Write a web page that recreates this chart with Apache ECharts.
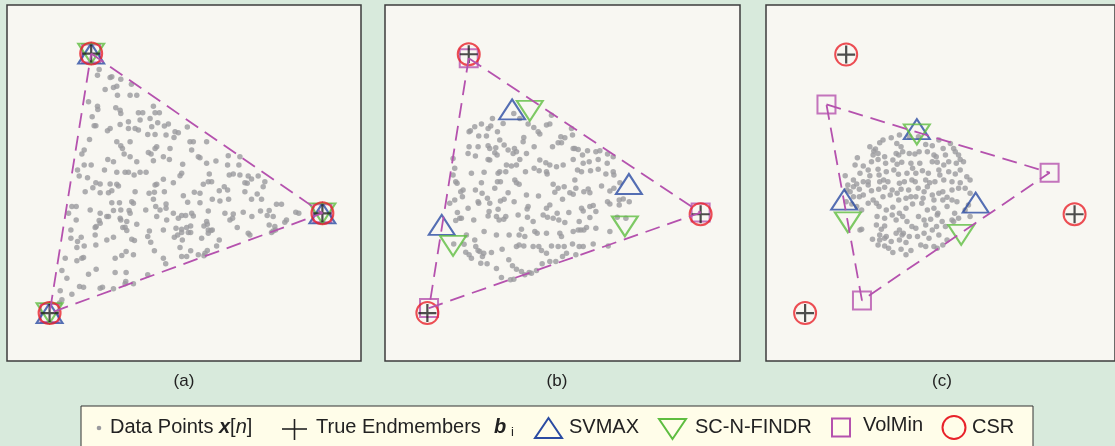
<!DOCTYPE html>
<html>
<head>
<meta charset="utf-8">
<script src="https://cdn.jsdelivr.net/npm/echarts@6/dist/echarts.min.js"></script>
<style>
html,body{margin:0;padding:0;background:#d8eadc;}
#c{width:1115px;height:446px;}
</style>
</head>
<body>
<div id="c"></div>
<script>
// Panel labels
const panelLabels = ['(a)', '(b)', '(c)'];
const legendNames = ['Data Points', 'True Endmembers', 'SVMAX', 'SC-N-FINDR', 'VolMin', 'CSR'];

// Axis ranges (arbitrary image units) per panel
const xRanges = [[20, 1084], [16, 1080], [34, 1096]];
const yRanges = [[14, 1084], [14, 1084], [14, 1084]];

// Data points x[n] per panel
const pointsA = [
[297,208],[292,225],[330,232],[335,230],[362,237],[394,252],[315,268],[340,262],[350,258],[352,285],[390,285],[410,285],
[265,305],[292,318],[293,328],[347,323],[360,330],[362,340],[460,318],[415,338],[428,338],[465,338],[478,338],[276,350],[450,355],[420,360],[385,365],
[282,377],[287,377],[330,385],[322,392],[360,373],[385,385],[405,385],[415,390],[455,380],[473,368],[493,378],[505,372],[562,381],[443,403],[465,403],[498,405],[525,395],[535,398],[522,412],
[268,418],[350,425],[390,425],[362,437],[367,445],[470,440],[465,445],[510,445],[570,425],[580,425],[620,425],[575,450],[252,450],[245,462],[372,462],[390,470],[445,457],[453,462],[490,470],[508,478],[595,470],[600,473],[685,467],[720,470],
[323,478],[340,485],[410,485],[460,482],[548,493],[620,490],[648,483],[683,495],[717,495],[252,495],[273,495],[232,510],[313,510],[350,517],[375,517],[385,517],[402,525],[420,517],[438,517],[545,520],[540,527],[628,522],[688,525],[700,522],[720,525],[745,528],[775,528],[755,537],[795,545],[237,528],[262,533],
[287,548],[300,552],[330,552],[350,553],[355,558],[465,555],[470,553],[490,538],[520,548],[610,553],[625,545],[635,545],[673,560],[735,548],[742,550],[790,560],[255,575],[278,563],[300,578],[325,578],[335,572],[405,575],[447,580],[463,577],[493,575],[550,587],[583,577],[600,580],[658,572],[683,570],[735,575],[772,582],
[215,620],[228,620],[270,630],[335,608],[358,608],[395,605],[400,610],[460,598],[467,620],[480,630],[498,612],[498,625],[563,607],[600,608],[637,598],[660,603],[686,598],[755,598],[785,598],[830,613],[845,613],[205,640],[300,640],[320,650],[340,632],[362,630],[387,632],[390,640],[437,630],[470,650],[520,640],[545,647],[557,647],[575,640],[625,633],[675,640],[700,642],[730,637],[782,633],[808,632],[888,637],[897,640],
[228,660],[297,662],[300,670],[325,650],[360,655],[362,660],[380,665],[410,673],[500,660],[535,655],[580,648],[620,665],[622,673],[690,660],[698,655],[756,650],[802,647],[820,650],[860,660],[855,667],[212,690],[285,683],[288,680],[368,683],[375,682],[380,692],[448,693],[490,690],[528,685],[545,688],[560,683],[572,678],[612,678],[625,690],[637,690],[712,683],[808,675],[825,680],[827,690],
[212,715],[232,725],[243,712],[252,738],[230,743],[285,705],[287,735],[320,720],[340,712],[395,718],[403,722],[443,710],[452,727],[523,712],[533,705],[545,698],[565,698],[572,698],[605,715],[625,700],[633,692],[650,738],[658,720],[745,700],[750,705],[815,698],[820,693],
[195,775],[230,783],[245,775],[250,773],[345,775],[365,767],[378,755],[400,765],[463,753],[490,775],[497,792],[540,743],[545,770],[560,770],[572,753],[595,765],[612,768],[615,760],[622,752],[547,720],
[200,835],[185,812],[265,823],[288,808],[345,818],[378,818],[377,845],[400,852],[375,852],[443,825],[238,860],[250,862],[300,865],[307,862],[340,867],[180,873],[215,883],[185,900],[178,910]
];
const pointsB = [
[370,370],[338,355],[402,340],[420,355],[445,372],[462,382],[475,395],[480,402],[500,375],[510,372],[515,345],[268,395],[272,392],[285,380],[305,372],[325,385],[333,378],[297,408],[320,408],[353,395],[360,420],[432,412],[430,425],[543,410],[555,413],[575,385],[578,405],[545,428],
[268,440],[295,440],[265,460],[287,468],[325,437],[330,445],[348,443],[352,465],[345,458],[373,435],[385,450],[404,445],[410,455],[400,460],[440,460],[463,440],[518,440],[535,428],[580,445],[585,445],[595,448],[608,465],[623,452],[648,455],[660,452],[683,462],[700,470],[325,478],[330,480],[220,475],[420,478],[480,480],[498,488],[510,495],[550,495],[580,478],[610,490],[628,485],[655,478],[682,490],
[380,495],[395,498],[410,495],[225,505],[220,525],[275,520],[313,517],[355,520],[360,515],[378,515],[437,515],[463,505],[478,512],[500,515],[502,522],[530,500],[593,510],[605,515],[632,512],[655,508],[678,522],[700,515],[702,525],[228,545],[232,550],[250,570],[243,575],[287,570],[305,548],[345,565],[353,545],[362,545],[405,540],[410,548],[418,553],[520,553],[535,565],[553,560],[585,540],[588,565],[612,575],[625,567],[630,578],[665,558],[690,573],[702,565],[720,548],
[210,610],[225,600],[248,590],[265,625],[295,605],[297,610],[307,580],[323,595],[330,610],[355,628],[362,603],[373,598],[385,578],[403,605],[440,585],[445,620],[442,627],[476,588],[500,625],[510,615],[525,577],[548,598],[570,578],[580,583],[605,625],[610,633],[630,620],[640,617],[648,635],[683,605],[690,612],[718,600],[730,597],[718,615],[748,605],[233,638],
[240,655],[228,662],[245,655],[282,660],[328,635],[325,648],[350,650],[358,660],[372,658],[378,650],[415,645],[443,652],[460,665],[490,645],[503,652],[520,655],[532,640],[537,660],[555,668],[567,638],[598,665],[630,653],[648,685],[603,690],[612,690],[620,683],[690,695],[712,652],[738,655],[260,705],[313,695],[350,705],[388,705],[418,705],[425,688],[435,710],[465,695],[472,700],[500,700],[540,700],[545,710],[580,695],[595,690],[253,733],[222,732],
[258,757],[285,720],[295,752],[300,755],[312,760],[335,758],[367,748],[410,740],[418,735],[432,738],[460,740],[477,740],[485,752],[500,760],[515,738],[535,740],[553,740],[560,760],[578,732],[598,740],[610,740],[640,732],[685,738],[268,765],[275,775],[303,790],[322,792],[350,806],[387,780],[398,798],[410,808],[425,815],[435,825],[455,820],[470,812],[487,792],[510,785],[528,785],[548,770],[588,765],
[365,833],[392,840],[402,838],[448,818],[308,770],[288,740]
];
const pointsC = [
[440,405],[415,413],[390,420],[380,428],[432,430],[445,440],[470,410],[498,410],[520,433],[540,437],[560,420],[573,445],[595,430],[605,445],[350,440],[362,453],[367,447],
[360,465],[375,460],[395,470],[430,460],[438,465],[450,455],[470,460],[487,462],[500,455],[525,455],[545,465],[552,470],[580,465],[610,455],[620,465],[312,473],[355,485],[375,478],[398,490],[420,480],[433,493],[447,487],[475,490],[502,490],[540,485],[555,487],[575,495],[590,485],[613,490],[625,478],[635,485],[305,495],[330,498],
[320,520],[275,527],[345,510],[350,527],[375,508],[378,525],[400,515],[423,510],[437,523],[463,520],[480,505],[490,520],[510,512],[528,520],[560,510],[563,525],[590,515],[610,522],[625,510],[645,530],[655,540],[300,540],[310,552],[330,545],[345,545],[380,545],[392,540],[405,545],[440,550],[455,545],[478,540],[488,545],[520,540],[532,548],[548,545],[575,540],[600,545],[625,548],
[283,555],[280,570],[290,575],[300,560],[318,568],[345,555],[355,572],[377,568],[395,562],[418,570],[433,580],[445,568],[468,570],[497,565],[515,575],[525,560],[540,585],[560,580],[572,575],[585,592],[600,570],[620,565],[640,565],[655,580],[300,590],[318,590],[330,585],[360,600],[370,610],[390,590],[412,585],[438,600],[460,595],[475,590],[490,590],[512,595],[545,600],[572,600],[600,600],[615,605],
[278,605],[295,612],[310,620],[325,630],[345,610],[378,620],[400,630],[420,622],[440,640],[460,625],[480,612],[508,610],[525,630],[545,625],[557,640],[585,620],[608,640],[640,630],[650,615],[372,650],[395,655],[418,645],[430,660],[450,650],[463,665],[498,650],[515,660],[535,658],[555,645],[570,665],[600,660],[620,655],[655,650],
[325,688],[320,690],[370,675],[385,688],[395,678],[440,690],[452,700],[478,680],[490,685],[520,675],[540,690],[553,680],[580,680],[605,665],[380,705],[400,710],[430,700],[448,705],[470,710],[495,710],[515,700],[530,715],[560,705],[358,718],[380,720],[395,715],[415,725],[440,720],[460,728],
[375,735],[395,738],[407,745],[420,758],[445,748],[460,765],[475,752],[505,735],[520,740],[545,740],[555,745],[585,720],[572,735]
];
const pointsAll = [pointsA, pointsB, pointsC];

// True endmembers b_i
const trueEnd = [
  [[273,160],[968,640],[148,940]],
  [[267,162],[962,643],[143,940]],
  [[278,163],[973,643],[153,940]]
];
const csrEnd = [
  [[273,160],[968,640],[148,940]],
  [[267,162],[962,643],[143,940]],
  [[278,163],[973,643],[153,940]]
];
const volminEnd = [
  [[273,160],[968,640],[148,940]],
  [[267,174],[962,638],[148,925]],
  [[218,313],[897,518],[326,902]]
];
const svmaxEnd = [
  [[273,160],[968,640],[148,940]],
  [[397,328],[747,552],[186,675]],
  [[493,387],[672,608],[272,599]]
];
const scnfindrEnd = [
  [[273,160],[968,640],[148,940]],
  [[450,332],[735,679],[220,738]],
  [[493,403],[628,705],[283,667]]
];

const C = {
  bg: '#d8eadc', panel: '#f8f7f2', border: '#3c3c3c', pts: '#9a9a9e',
  blue: '#2a4ba2', green: '#5ebd40', mag: '#b552ae', red: '#e8222a', black: '#222222'
};

const gridPos = [
  {left: 7, top: 5, width: 354, height: 356},
  {left: 385, top: 5, width: 355, height: 356},
  {left: 766, top: 5, width: 354, height: 356}
];

const crossPath = 'path://M10,0L10,20M0,10L20,10';
const grids = [], xAxes = [], yAxes = [], series = [];
for (let i = 0; i < 3; i++) {
  grids.push(Object.assign({show: true, backgroundColor: C.panel, borderColor: C.border, borderWidth: 1.5, containLabel: false}, gridPos[i]));
  xAxes.push({type: 'value', gridIndex: i, min: xRanges[i][0], max: xRanges[i][1], show: false});
  yAxes.push({type: 'value', gridIndex: i, min: yRanges[i][0], max: yRanges[i][1], inverse: true, show: false});
  const ax = {xAxisIndex: i, yAxisIndex: i, silent: true, animation: false};
  series.push(Object.assign({type: 'scatter', name: 'Data Points', data: pointsAll[i], symbol: 'circle', symbolSize: 5.5, itemStyle: {color: C.pts}}, ax));
  const v = volminEnd[i];
  series.push(Object.assign({type: 'line', name: 'VolMin-edges', data: [v[0], v[1], v[2], v[0]], symbol: 'none',
    lineStyle: {color: C.mag, width: 1.8, type: [15, 8]}}, ax));
  series.push(Object.assign({type: 'scatter', name: 'VolMin', data: volminEnd[i], symbol: 'rect', symbolSize: 18,
    itemStyle: {color: 'rgba(0,0,0,0)', borderColor: C.mag, borderWidth: 2}}, ax));
  series.push(Object.assign({type: 'scatter', name: 'SVMAX', data: svmaxEnd[i], symbol: 'triangle', symbolSize: [26, 20],
    itemStyle: {color: 'rgba(0,0,0,0)', borderColor: C.blue, borderWidth: 2}}, ax));
  series.push(Object.assign({type: 'scatter', name: 'SC-N-FINDR', data: scnfindrEnd[i], symbol: 'triangle', symbolRotate: 180, symbolSize: [26, 20],
    itemStyle: {color: 'rgba(0,0,0,0)', borderColor: C.green, borderWidth: 2}}, ax));
  series.push(Object.assign({type: 'scatter', name: 'CSR', data: csrEnd[i], symbol: 'circle', symbolSize: 22,
    itemStyle: {color: 'rgba(0,0,0,0)', borderColor: C.red, borderWidth: 2}}, ax));
  series.push(Object.assign({type: 'scatter', name: 'True Endmembers', data: trueEnd[i], symbol: crossPath, symbolSize: 18,
    itemStyle: {color: 'rgba(0,0,0,0)', borderColor: C.black, borderWidth: 2.2}}, ax));
}

const font = '"Liberation Sans", Arial, Helvetica, sans-serif';
const txt = (x, y, text, extra) => ({type: 'text', x: x, y: y, silent: true,
  style: Object.assign({text: text, font: '20px ' + font, fill: C.black, textVerticalAlign: 'middle'}, extra || {})});

const graphic = [
  txt(184, 381, panelLabels[0], {font: '17px ' + font, textAlign: 'center'}),
  txt(557, 381, panelLabels[1], {font: '17px ' + font, textAlign: 'center'}),
  txt(942, 381, panelLabels[2], {font: '17px ' + font, textAlign: 'center'}),
  {type: 'rect', shape: {x: 81, y: 406, width: 952, height: 60}, style: {fill: '#fffde9', stroke: '#333', lineWidth: 1}, silent: true},
  {type: 'circle', shape: {cx: 99, cy: 428, r: 2.3}, style: {fill: C.pts}, silent: true},
  {type: 'text', x: 110, y: 427, silent: true, style: {
    text: '{r|' + legendNames[0] + ' }{bi|x}{r|[}{i|n}{r|]}', textVerticalAlign: 'middle',
    rich: {r: {font: '20px ' + font, fill: C.black}, bi: {font: 'italic bold 20px ' + font, fill: C.black}, i: {font: 'italic 20px ' + font, fill: C.black}}}},
  {type: 'polyline', shape: {points: [[282, 429], [307, 429]]}, style: {stroke: C.black, lineWidth: 1.6}, silent: true},
  {type: 'polyline', shape: {points: [[294.5, 419], [294.5, 440]]}, style: {stroke: C.black, lineWidth: 1.6}, silent: true},
  txt(316, 427, legendNames[1]),
  txt(494, 427, 'b', {font: 'italic bold 20px ' + font}),
  txt(511, 432, 'i', {font: '13px ' + font}),
  {type: 'polygon', shape: {points: [[548.5, 418], [562, 438], [535, 438]]}, style: {fill: 'none', stroke: C.blue, lineWidth: 2}, silent: true},
  txt(569, 427, legendNames[2]),
  {type: 'polygon', shape: {points: [[659, 419], [686, 419], [672.5, 439]]}, style: {fill: 'none', stroke: C.green, lineWidth: 2}, silent: true},
  txt(695, 427, legendNames[3]),
  {type: 'rect', shape: {x: 832, y: 418.5, width: 18, height: 18}, style: {fill: 'none', stroke: C.mag, lineWidth: 2}, silent: true},
  txt(863, 425, legendNames[4]),
  {type: 'circle', shape: {cx: 954, cy: 427.5, r: 11.5}, style: {fill: 'none', stroke: C.red, lineWidth: 2}, silent: true},
  txt(972, 427, legendNames[5])
];

const chart = echarts.init(document.getElementById('c'), null, {renderer: 'canvas'});
chart.setOption({
  backgroundColor: C.bg,
  animation: false,
  grid: grids, xAxis: xAxes, yAxis: yAxes, series: series,
  tooltip: {show: false},
  graphic: graphic
});
</script>
</body>
</html>
